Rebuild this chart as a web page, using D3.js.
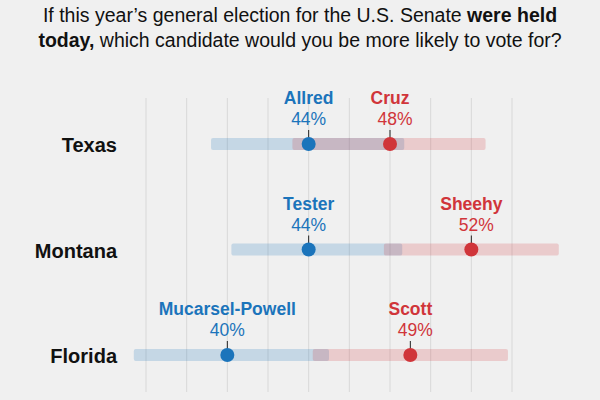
<!DOCTYPE html><html><head><meta charset="utf-8">
<script src="https://cdn.jsdelivr.net/npm/d3@7"></script>
<style>body{margin:0;background:#f0f0f0;font-family:"Liberation Sans",Arial,sans-serif}</style></head><body>
<svg id="c" width="600" height="400"></svg>
<script>
const states=["Texas","Montana","Florida"];
const demNames=["Allred","Tester","Mucarsel-Powell"];
const demVals=[44,44,40];
const demLo=[39.2,40.2,35.4];
const demHi=[48.7,48.6,45.0];
const repNames=["Cruz","Sheehy","Scott"];
const repVals=[48,52,49];
const repLo=[43.2,47.7,44.2];
const repHi=[52.7,56.3,53.8];
const gridTicks=[36,38,40,42,44,46,48,50,52,54];
const BLUE="#1b74bb",RED="#d0353a";
const svg=d3.select("#c");
const x=d3.scaleLinear().domain([36,54]).range([146,512]);
const y=d3.scalePoint().domain(states).range([144,355]);
const t=svg.append("text").attr("text-anchor","middle").attr("font-size",19.5).attr("fill","#111").attr("x",300).attr("y",22);
t.append("tspan").text("If this year’s general election for the U.S. Senate ");
t.append("tspan").attr("font-weight","bold").text("were held");
const t2=svg.append("text").attr("text-anchor","middle").attr("font-size",19.5).attr("fill","#111").attr("x",300).attr("y",47);
t2.append("tspan").attr("font-weight","bold").text("today,");
t2.append("tspan").text(" which candidate would you be more likely to vote for?");
svg.selectAll("line.g").data(gridTicks).join("line").attr("x1",d=>x(d)).attr("x2",d=>x(d)).attr("y1",98).attr("y2",392).attr("stroke","#d8d8d8").attr("stroke-width",1);
states.forEach((s,i)=>{
  const cy=y(s);
  const g=svg.append("g");
  g.append("text").attr("x",117).attr("y",cy+8).attr("text-anchor","end").attr("font-weight","bold").attr("font-size",20).attr("fill","#111").text(s);
  g.append("rect").attr("x",x(demLo[i])).attr("width",x(demHi[i])-x(demLo[i])).attr("y",cy-6).attr("height",12).attr("rx",2).attr("fill",BLUE).attr("opacity",0.2);
  g.append("rect").attr("x",x(repLo[i])).attr("width",x(repHi[i])-x(repLo[i])).attr("y",cy-6).attr("height",12).attr("rx",2).attr("fill",RED).attr("opacity",0.2);
  [[demNames[i],demVals[i],BLUE],[repNames[i],repVals[i],RED]].forEach(([n,v,c])=>{
    const cx=x(v);
    g.append("line").attr("x1",cx).attr("x2",cx).attr("y1",cy-14).attr("y2",cy-6).attr("stroke","#222").attr("stroke-width",1);
    g.append("circle").attr("cx",cx).attr("cy",cy).attr("r",7).attr("fill",c);
    g.append("text").attr("x",cx).attr("y",cy-40).attr("text-anchor","middle").attr("font-weight","bold").attr("font-size",17.5).attr("fill",c).text(n);
    g.append("text").attr("x",cx+(c===RED?5:0)).attr("y",cy-19).attr("text-anchor","middle").attr("font-size",17.5).attr("fill",c).text(v+"%");
  });
});
</script></body></html>
